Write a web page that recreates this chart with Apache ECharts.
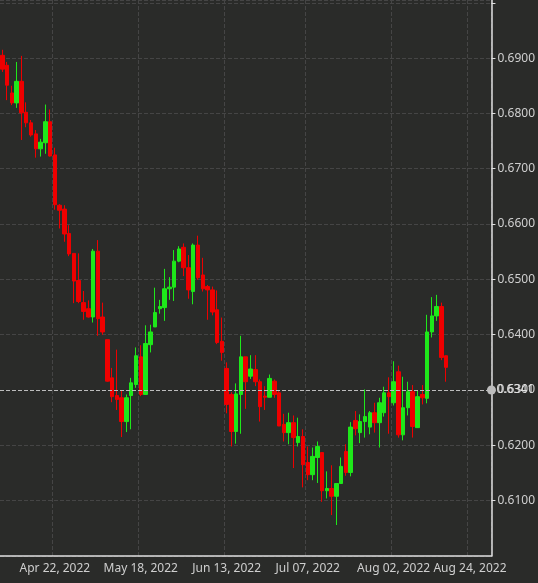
<!DOCTYPE html>
<html><head><meta charset="utf-8">
<script src="https://cdn.jsdelivr.net/npm/echarts@6/dist/echarts.min.js"></script>
<style>html,body{margin:0;padding:0;background:#2a2b29}#c{width:538px;height:583px}</style>
</head><body><div id="c"></div>
<script>
// candles: [open, close, low, high]
const opens  = [.6905,.6887,.6837,.6819,.6858,.6802,.6783,.6763,.6736,.6747,.6785,.6725,.6634,.6627,.6583,.6547,.6498,.6458,.6447,.6432,.6551,.6432,.6391,.6322,.6290,.6286,.6243,.6290,.6310,.6360,.6292,.6382,.6414,.6447,.6449,.6483,.6486,.6533,.6558,.6521,.6478,.6562,.6508,.6487,.6481,.6445,.6388,.6339,.6292,.6225,.6292,.6360,.6325,.6337,.6315,.6289,.6287,.6316,.6295,.6238,.6223,.6241,.6205,.6216,.6169,.6147,.6178,.6187,.6118,.6122,.6108,.6131,.6189,.6151,.6245,.6223,.6243,.6233,.6259,.6241,.6259,.6295,.6277,.6333,.6219,.6268,.6297,.6232,.6292,.6285,.6405,.6434,.6451,.6362];
const closes = [.6880,.6851,.6819,.6858,.6801,.6783,.6761,.6736,.6748,.6785,.6723,.6635,.6625,.6582,.6546,.6497,.6460,.6442,.6432,.6551,.6429,.6405,.6316,.6288,.6283,.6243,.6286,.6313,.6362,.6292,.6384,.6405,.6440,.6451,.6483,.6486,.6533,.6555,.6521,.6481,.6562,.6503,.6483,.6481,.6441,.6386,.6368,.6274,.6225,.6293,.6360,.6315,.6338,.6315,.6270,.6287,.6321,.6292,.6235,.6223,.6241,.6214,.6216,.6165,.6147,.6180,.6198,.6118,.6122,.6108,.6131,.6162,.6151,.6233,.6230,.6243,.6252,.6259,.6241,.6277,.6295,.6288,.6315,.6219,.6268,.6297,.6234,.6288,.6286,.6405,.6434,.6451,.6359,.6341];
const lows   = [.6875,.6824,.6815,.6810,.6752,.6775,.6758,.6720,.6722,.6727,.6722,.6626,.6592,.6568,.6542,.6457,.6457,.6427,.6431,.6422,.6398,.6400,.6315,.6278,.6264,.6215,.6224,.6229,.6304,.6289,.6292,.6368,.6425,.6438,.6425,.6463,.6461,.6531,.6506,.6465,.6455,.6499,.6478,.6427,.6435,.6383,.6353,.6258,.6198,.6203,.6221,.6266,.6320,.6307,.6243,.6264,.6311,.6286,.6235,.6207,.6202,.6159,.6198,.6124,.6137,.6137,.6132,.6098,.6104,.6074,.6056,.6151,.6145,.6144,.6218,.6204,.6214,.6220,.6223,.6196,.6252,.6221,.6272,.6214,.6209,.6254,.6214,.6250,.6274,.6276,.6395,.6425,.6354,.6315];
const highs  = [.6915,.6893,.6850,.6893,.6904,.6820,.6788,.6770,.6754,.6816,.6807,.6738,.6636,.6634,.6598,.6547,.6547,.6479,.6462,.6555,.6571,.6458,.6391,.6340,.6373,.6300,.6292,.6322,.6377,.6381,.6417,.6418,.6485,.6463,.6519,.6504,.6553,.6560,.6565,.6544,.6565,.6579,.6539,.6490,.6487,.6480,.6431,.6350,.6296,.6312,.6398,.6360,.6363,.6363,.6319,.6307,.6328,.6319,.6298,.6257,.6259,.6254,.6250,.6229,.6198,.6196,.6207,.6187,.6153,.6164,.6127,.6178,.6202,.6242,.6262,.6256,.6301,.6262,.6277,.6286,.6306,.6323,.6352,.6344,.6324,.6315,.6309,.6300,.6309,.6436,.6468,.6472,.6458,.6352];
const lastPrice = 0.6341;
const tickLabels = ['Apr 22, 2022','May 18, 2022','Jun 13, 2022','Jul 07, 2022','Aug 02, 2022','Aug 24, 2022'];

const M = ['Jan','Feb','Mar','Apr','May','Jun','Jul','Aug','Sep','Oct','Nov','Dec'];
const cats = [];
let d = new Date(2022,3,7);
while (cats.length < 103) {
  const wd = d.getDay();
  const isHol = d.getMonth()===6 && d.getDate()===4;
  if (wd!==0 && wd!==6 && !isHol) {
    cats.push(M[d.getMonth()]+' '+String(d.getDate()).padStart(2,'0')+', '+d.getFullYear());
  }
  d.setDate(d.getDate()+1);
}
const data = cats.map((c,i)=> i<opens.length ? [opens[i],closes[i],lows[i],highs[i]] : '-');
const showIdx = (i,v)=> tickLabels.includes(cats[i]);

const chart = echarts.init(document.getElementById('c'));
chart.setOption({
  backgroundColor:'#2a2b29',
  animation:false,
  grid:{left:-3,right:46,top:0,bottom:27},
  xAxis:{type:'category',data:cats,boundaryGap:true,
    axisLine:{lineStyle:{color:'#e0e0e0',width:1.5}},
    axisTick:{interval:showIdx,alignWithLabel:true,length:4,lineStyle:{color:'#e0e0e0'}},
    axisLabel:{interval:showIdx,color:'#cfcfcf',fontSize:12,fontFamily:'Noto Sans',margin:7},
    splitLine:{show:true,interval:showIdx,lineStyle:{color:'#454545',type:'dashed'}}},
  yAxis:{type:'value',position:'right',min:0.60,max:0.7005,interval:0.01,
    axisLine:{show:true,lineStyle:{color:'#e0e0e0',width:1.5}},
    axisTick:{show:true,length:4,lineStyle:{color:'#e0e0e0'}},
    axisLabel:{color:'#cfcfcf',fontSize:12,fontFamily:'Noto Sans',margin:6,showMaxLabel:false,showMinLabel:false,
      formatter:v=>(v>0.6995?'':v.toFixed(4))},
    splitLine:{lineStyle:{color:'#454545',type:'dashed'}}},
  series:[{type:'candlestick',data:data,barWidth:4,
    itemStyle:{color:'#1ee81a',color0:'#ee0000',borderColor:'#1ee81a',borderColor0:'#ee0000',borderWidth:1}},
    {type:'line',data:[],silent:true,
    markLine:{silent:true,symbol:['none','circle'],symbolSize:9,
      lineStyle:{color:'#bdbdbd',type:'dashed',width:1},
      itemStyle:{color:'#9a9a9a'},
      label:{position:'end',color:'#e0e0e0',fontSize:12,fontFamily:'Noto Sans',distance:5,formatter:()=>lastPrice.toFixed(4)},
      data:[{yAxis:lastPrice}]}}]
});
</script></body></html>
